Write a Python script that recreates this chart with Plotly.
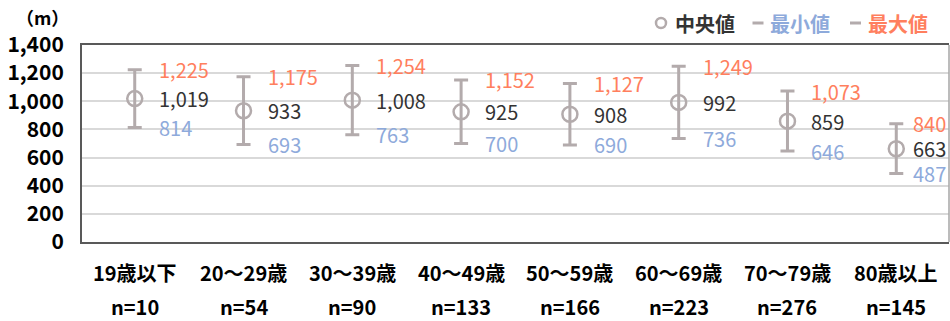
import plotly.graph_objects as go

ages = ["19歳以下", "20～29歳", "30～39歳", "40～49歳", "50～59歳", "60～69歳", "70～79歳", "80歳以上"]
counts = [10, 54, 90, 133, 166, 223, 276, 145]
median = [1019, 933, 1008, 925, 908, 992, 859, 663]
minimum = [814, 693, 763, 700, 690, 736, 646, 487]
maximum = [1225, 1175, 1254, 1152, 1127, 1249, 1073, 840]

FONT = "Noto Sans CJK JP, Noto Sans, sans-serif"
GRAY = "#b3abac"
ORANGE = "#ff7f5e"
BLUE = "#8eaadb"
DARK = "#333333"

fig = go.Figure()

fig.add_trace(go.Scatter(
    x=ages, y=median, mode="markers", showlegend=False,
    marker=dict(symbol="circle-open", size=15, color=GRAY, line=dict(width=2.5, color=GRAY)),
    error_y=dict(type="data", symmetric=False,
                 array=[mx - md for mx, md in zip(maximum, median)],
                 arrayminus=[md - mn for md, mn in zip(median, minimum)],
                 color=GRAY, thickness=3, width=7),
))

annotations = []
# data labels (last column sits closer to its marker, as in the original)
label_shift = [22, 22, 22, 22, 22, 22, 22, 15]
for vals, col in [(maximum, ORANGE), (median, DARK), (minimum, BLUE)]:
    for a, v, sh in zip(ages, vals, label_shift):
        annotations.append(dict(text=f"{v:,}", x=a, y=v, xref="x", yref="y", xshift=sh,
                                xanchor="left", yanchor="middle", showarrow=False,
                                font=dict(family=FONT, size=20, color=col)))

bold = dict(family=FONT, size=20, color="#000000", weight="bold")
for a, n in zip(ages, counts):
    annotations.append(dict(text=a, x=a, xref="x", yref="paper", y=0, yshift=-30,
                            yanchor="middle", showarrow=False, font=bold))
    annotations.append(dict(text=f"n={n}", x=a, xref="x", yref="paper", y=0, yshift=-64,
                            yanchor="middle", showarrow=False, font=bold))

annotations.append(dict(text="（m）", xref="paper", yref="paper", x=-0.045, y=1.0, yshift=28,
                        xanchor="center", yanchor="middle", showarrow=False,
                        font=dict(family=FONT, size=18, color="#000000", weight="bold")))

# legend drawn as shapes + text (positions in window pixels)
def px(xp):
    return (xp - 82) / 867

LEG_Y = (242 - 23) / 197
legend_items = [("中央値", DARK, 673), ("最小値", BLUE, 768), ("最大値", ORANGE, 866)]
for label, col, x0 in legend_items:
    annotations.append(dict(text=label, xref="paper", yref="paper", x=px(x0), y=LEG_Y,
                            xanchor="left", yanchor="middle", showarrow=False,
                            font=dict(family=FONT, size=20, color=col, weight="bold")))

shapes = [
    dict(type="circle", xref="paper", yref="paper", xsizemode="pixel", ysizemode="pixel",
         xanchor=px(661), yanchor=LEG_Y, x0=-5, x1=5, y0=-5, y1=5,
         line=dict(color=GRAY, width=2.5)),
    dict(type="line", xref="paper", yref="paper", xsizemode="pixel", ysizemode="pixel",
         xanchor=px(758), yanchor=LEG_Y, x0=-5.5, x1=5.5, y0=0, y1=0,
         line=dict(color=GRAY, width=3)),
    dict(type="line", xref="paper", yref="paper", xsizemode="pixel", ysizemode="pixel",
         xanchor=px(855.5), yanchor=LEG_Y, x0=-5.5, x1=5.5, y0=0, y1=0,
         line=dict(color=GRAY, width=3)),
    dict(type="line", xref="paper", yref="paper", x0=1, x1=1, y0=0, y1=1,
         line=dict(color="#a6a6a6", width=1.5)),
]

fig.update_layout(
    width=950, height=321,
    margin=dict(l=82, r=1, t=45, b=79),
    plot_bgcolor="white", paper_bgcolor="white",
    font=dict(family=FONT, size=18, color="#000000"),
    showlegend=False,
    xaxis=dict(showticklabels=False, showgrid=False, showline=True, linecolor="#595959",
               linewidth=2, mirror=True, ticks="", automargin=False),
    yaxis=dict(range=[0, 1400], dtick=200, tickformat=",", showgrid=True, gridcolor="#d9d9d9",
               gridwidth=1.5, showline=True, linecolor="#595959", linewidth=2, ticks="",
               ticklabelstandoff=12, zeroline=False, automargin=False,
               tickfont=dict(family=FONT, size=21, color="#000000", weight="bold")),
    annotations=annotations,
    shapes=shapes,
)

# drop the default page margin so the figure fills the window exactly
fig.write_html("out.html", config={"displayModeBar": False},
               post_script="document.body.style.margin='0';document.body.style.overflow='hidden';")
